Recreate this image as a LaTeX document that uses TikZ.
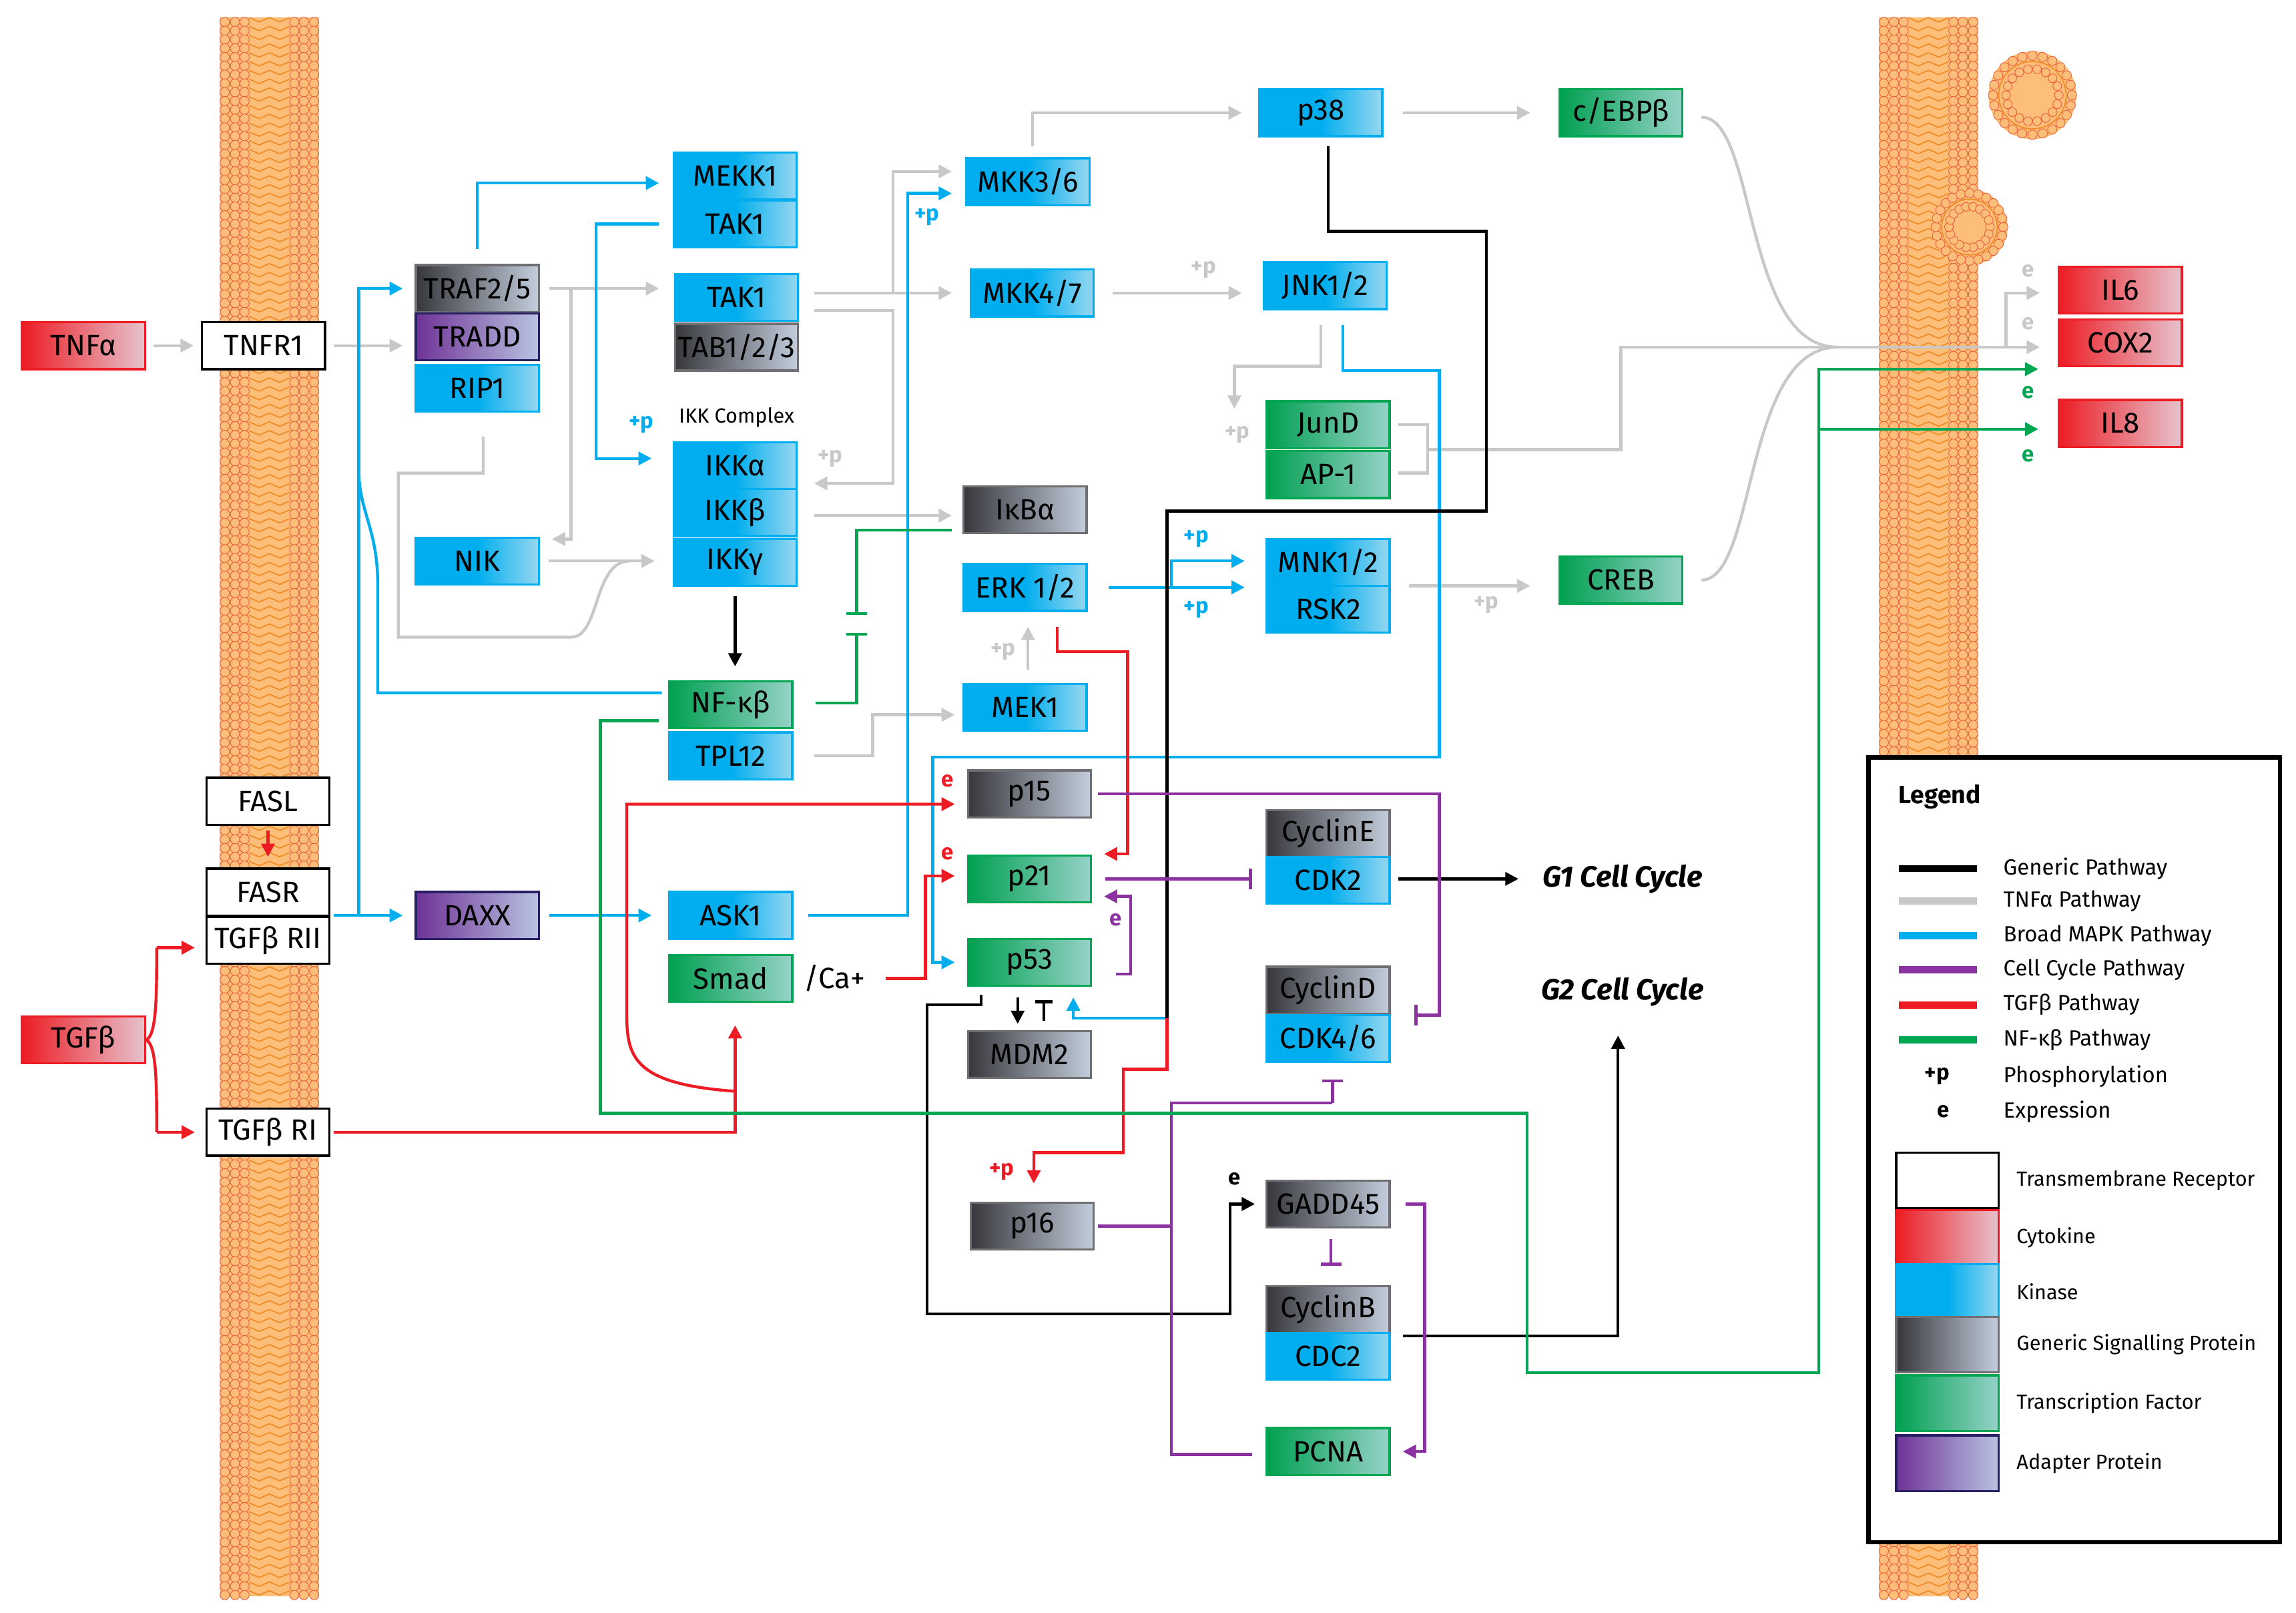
\documentclass[tikz,border=0pt]{standalone}
\usepackage{fontspec}
\setmainfont{Fira Sans}
\usetikzlibrary{arrows.meta}
\definecolor{cyB}{RGB}{0,174,239}\definecolor{cyR}{RGB}{150,215,240}
\definecolor{gyL}{RGB}{55,55,60}\definecolor{gyR}{RGB}{195,205,220}\definecolor{gyB}{RGB}{110,110,115}
\definecolor{gnL}{RGB}{0,160,80}\definecolor{gnR}{RGB}{150,210,200}\definecolor{gnB}{RGB}{0,166,81}
\definecolor{puL}{RGB}{110,50,150}\definecolor{puR}{RGB}{185,195,225}\definecolor{puB}{RGB}{40,30,100}
\definecolor{rdL}{RGB}{237,28,36}\definecolor{rdR}{RGB}{230,195,205}
\definecolor{lg}{RGB}{200,200,200}\definecolor{pu}{RGB}{140,50,160}\definecolor{rd}{RGB}{237,28,36}
\definecolor{gn}{RGB}{0,166,81}\definecolor{cy}{RGB}{0,174,239}
\definecolor{mem}{RGB}{240,140,40}\definecolor{memc}{RGB}{252,190,120}\definecolor{memo}{RGB}{235,90,60}
\tikzset{
 box/.style={draw,line width=1.5pt,minimum width=84pt,minimum height=32pt,inner sep=0pt,font=\fontsize{20}{22}\selectfont},
 kin/.style={box,draw=cyB,left color=cyB,right color=cyR,middle color=cyB},
 gen/.style={box,draw=gyB,left color=gyL,right color=gyR},
 tf/.style={box,draw=gnB,left color=gnL,right color=gnR},
 ad/.style={box,draw=puB,left color=puL,right color=puR},
 cyt/.style={box,draw=rdL,left color=rdL,right color=rdR},
 rec/.style={box,draw=black,fill=white},
 ln/.style={line width=2pt,rounded corners=0pt},
 ar/.style={ln,-{Triangle[length=9pt,width=9pt]}},
 inh/.style={ln,-{Bar[width=14pt,line width=2pt]}},
 lbl/.style={font=\fontsize{15}{16}\selectfont\bfseries,inner sep=1pt},
 lgt/.style={font=\fontsize{15}{17}\selectfont,anchor=west,inner sep=0pt},
}
\begin{document}
\begin{tikzpicture}[x=1pt,y=-1pt]
\useasboundingbox (0,0) rectangle (1568,1101);
% membranes
\foreach \mx in {150,1283}{
 \fill[memc] (\mx,12) rectangle (\mx+68,1090);
 \foreach \yy in {0,6,...,1074}{
  \draw[mem,line width=0.8pt] (\mx+20,12+\yy) -- (\mx+27,15+\yy) -- (\mx+34,12+\yy) -- (\mx+41,15+\yy) -- (\mx+48,12+\yy);
  \foreach \cx in {3.5,10.5,17,51,57.5,64.5}{
   \filldraw[fill=memc,draw=memo,line width=0.4pt] (\mx+\cx,15+\yy) circle (3.2);}}
}
\foreach \vx/\vy/\vr in {1388/65/30,1345/155/26}{
 \fill[memc] (\vx,\vy) circle (\vr);
 \foreach \a in {0,15,...,345}{\filldraw[fill=memc,draw=memo,line width=0.4pt] (\vx,\vy)++(\a:\vr-3) circle (3.2);}
 \foreach \a in {0,20,...,340}{\filldraw[fill=memc,draw=memo,line width=0.4pt] (\vx,\vy)++(\a:\vr-12) circle (3);}
 \draw[mem,line width=0.8pt] (\vx,\vy) circle (\vr-7);
}
% nodes
\node[cyt] (tnfa) at (57,236) {TNFα};
\node[rec] (tnfr) at (180,236) {TNFR1};
\node[gen] (traf) at (326,197) {TRAF2/5};
\node[ad] (tradd) at (326,230) {TRADD};
\node[kin] (rip) at (326,265) {RIP1};
\node[kin] (mekk) at (502,120) {MEKK1};
\node[kin] (tak1a) at (502,153) {TAK1};
\node[kin] (tak1b) at (503,203) {TAK1};
\node[gen] (tab) at (503,237) {TAB1/2/3};
\node[font=\fontsize{14}{16}\selectfont] (ikkc) at (503,285) {IKK Complex};
\node[kin] (ikka) at (502,318) {IKKα};
\node[kin] (ikkb) at (502,350) {IKKβ};
\node[kin] (ikkg) at (502,384) {IKKγ};
\node[kin] (nik) at (326,383) {NIK};
\node[tf] (nfkb) at (499,481) {NF-κβ};
\node[kin] (tpl) at (499,516) {TPL12};
\node[kin] (mkk36) at (702,124) {MKK3/6};
\node[kin] (mkk47) at (705,200) {MKK4/7};
\node[kin] (p38) at (902,77) {p38};
\node[kin] (jnk) at (905,195) {JNK1/2};
\node[gen] (ikba) at (700,348) {IκBα};
\node[kin] (erk) at (700,401) {ERK 1/2};
\node[kin] (mek) at (700,483) {MEK1};
\node[tf] (jund) at (907,290) {JunD};
\node[tf] (ap1) at (907,324) {AP-1};
\node[kin] (mnk) at (907,384) {MNK1/2};
\node[kin] (rsk) at (907,416) {RSK2};
\node[tf] (cebp) at (1107,77) {c/EBPβ};
\node[tf] (creb) at (1107,396) {CREB};
\node[cyt] (il6) at (1448,198) {IL6};
\node[cyt] (cox2) at (1448,234) {COX2};
\node[cyt] (il8) at (1448,289) {IL8};
\node[rec] (fasl) at (183,547) {FASL};
\node[rec] (fasr) at (183,609) {FASR};
\node[rec] (tgfr2) at (183,642) {TGFβ RII};
\node[cyt] (tgfb) at (57,710) {TGFβ};
\node[rec] (tgfr1) at (183,773) {TGFβ RI};
\node[ad] (daxx) at (326,625) {DAXX};
\node[kin] (ask) at (499,625) {ASK1};
\node[tf] (smad) at (499,668) {Smad};
\node[font=\fontsize{20}{22}\selectfont] (ca) at (570,668) {/Ca+};
\node[gen] (p15) at (703,542) {p15};
\node[tf] (p21) at (703,600) {p21};
\node[tf] (p53) at (703,657) {p53};
\node[gen] (mdm2) at (703,720) {MDM2};
\node[gen] (cyce) at (907,569) {CyclinE};
\node[kin] (cdk2) at (907,601) {CDK2};
\node[gen] (cycd) at (907,676) {CyclinD};
\node[kin] (cdk46) at (907,709) {CDK4/6};
\node[gen] (gadd) at (907,822) {GADD45};
\node[gen] (cycb) at (907,894) {CyclinB};
\node[kin] (cdc2) at (907,926) {CDC2};
\node[tf] (pcna) at (907,991) {PCNA};
\node[gen] (p16) at (705,837) {p16};
\node[font=\fontsize{20}{22}\selectfont\bfseries\itshape] (g1) at (1108,600) {G1 Cell Cycle};
\node[font=\fontsize{20}{22}\selectfont\bfseries\itshape] (g2) at (1108,677) {G2 Cell Cycle};
% gray
\begin{scope}[lg]
\draw[ar] ([xshift=5pt]tnfa.east) -- ([xshift=-5pt]tnfr.west);
\draw[ar] ([xshift=5pt]tnfr.east) -- (275,236);
\draw[ar] (375,197) -- (450,197);
\draw[ar] (390,197) -- (390,368) -- (377,368);
\draw[ln] (330,298) -- (330,323) -- (272,323) -- (272,435) -- (390,435) .. controls (410,435) and (405,383) .. (430,383);
\draw[ar] ([xshift=6pt]nik.east) -- (447,383);
\draw[ar] (556,200) -- (650,200);
\draw[ar] (610,200) -- (610,117) -- (650,117);
\draw[ar] (556,212) -- (610,212) -- (610,330) -- (556,330);
\draw[ar] (556,352) -- (650,352);
\draw[ar] (760,200) -- (848,200);
\draw[ar] (705,100) -- (705,77) -- (848,77);
\draw[ar] (958,77) -- (1045,77);
\draw[ar] (902,222) -- (902,250) -- (843,250) -- (843,279);
\draw[ar] (556,516) -- (596,516) -- (596,488) -- (652,488);
\draw[ar] (702,457) -- (702,428);
\draw[ar] (962,400) -- (1045,400);
\draw[ln] (955,290) -- (975,290) -- (975,323) -- (955,323);
\draw[ln] (975,307) -- (1107,307) -- (1107,237) -- (1255,237);
\draw[ln] (1162,80) .. controls (1200,80) and (1190,237) .. (1255,237);
\draw[ln] (1162,396) .. controls (1200,396) and (1190,237) .. (1255,237);
\draw[ar] (1255,237) -- (1393,237);
\draw[ar] (1370,237) -- (1370,200) -- (1393,200);
\node[lbl,lg] at (567,313) {+p};
\node[lbl,lg] at (822,184) {+p};
\node[lbl,lg] at (845,297) {+p};
\node[lbl,lg] at (685,445) {+p};
\node[lbl,lg] at (1015,413) {+p};
\node[lbl,lg] at (1385,185) {e};
\node[lbl,lg] at (1385,221) {e};
\end{scope}
% cyan
\begin{scope}[cy]
\draw[ar] (326,170) -- (326,125) -- (450,125);
\draw[ar] (450,153) -- (407,153) -- (407,313) -- (445,313);
\draw[ar] (228,625) -- (275,625);
\draw[ar] (245,625) -- (245,197) -- (275,197);
\draw[ln] (452,473) -- (258,473) -- (258,400) .. controls (258,360) and (245,350) .. (245,320);
\draw[ar] (375,625) -- (445,625);
\draw[ar] (552,625) -- (620,625) -- (620,132) -- (650,132);
\draw[ar] (757,401) -- (850,401);
\draw[ar] (800,401) -- (800,383) -- (850,383);
\draw[ar] (917,222) -- (917,253) -- (983,253) -- (983,517) -- (637,517) -- (637,657) -- (652,657);
\draw[ar] (797,695) -- (733,695) -- (733,681);
\node[lbl] at (438,290) {+p};
\node[lbl] at (633,148) {+p};
\node[lbl] at (817,368) {+p};
\node[lbl] at (817,416) {+p};
\end{scope}
% black
\draw[ar] (502,407) -- (502,455);
\draw[ln] (907,100) -- (907,158) -- (1015,158) -- (1015,349) -- (797,349) -- (797,695);
\draw[ar] (695,681) -- (695,699);
\draw[ln,{Bar[width=12pt,line width=2pt]}-] (713,683) -- (713,697);
\draw[ar] (670,679) -- (670,686) -- (633,686) -- (633,897) -- (840,897) -- (840,822) -- (857,822);
\node[lbl] at (843,805) {e};
\draw[ar] (955,600) -- (1037,600);
\draw[ar] (958,912) -- (1105,912) -- (1105,707);
% red
\begin{scope}[rd]
\draw[ar] (183,567) -- (183,585);
\draw[ln] (107,647) .. controls (107,680) and (107,706) .. (100,710) .. controls (107,714) and (107,740) .. (107,773);
\draw[ar] (107,647) -- (133,647);
\draw[ar] (107,773) -- (133,773);
\draw[ar] (228,773) -- (502,773) -- (502,700);
\draw[ar] (502,745) .. controls (430,740) and (428,720) .. (428,690) -- (428,549) -- (652,549);
\draw[ar] (605,668) -- (632,668) -- (632,598) -- (652,598);
\draw[ar] (722,428) -- (722,445) -- (770,445) -- (770,583) -- (754,583);
\draw[ar] (797,695) -- (797,730) -- (767,730) -- (767,787) -- (706,787) -- (706,808);
\node[lbl] at (647,533) {e};
\node[lbl] at (647,583) {e};
\node[lbl] at (684,800) {+p};
\end{scope}
% purple
\begin{scope}[pu]
\draw[inh] (750,542) -- (983,542) -- (983,693) -- (966,693);
\draw[inh] (755,600) -- (855,600);
\draw[ar] (762,665) -- (772,665) -- (772,612) -- (754,612);
\node[lbl] at (762,628) {e};
\draw[ln] (750,837) -- (800,837);
\draw[ln] (855,993) -- (800,993) -- (800,753) -- (910,753);
\draw[inh] (910,753) -- (910,737);
\draw[ar] (960,822) -- (973,822) -- (973,991) -- (958,991);
\draw[inh] (909,846) -- (909,864);
\end{scope}
% green
\begin{scope}[gn]
\draw[inh] (557,480) -- (585,480) -- (585,432);
\draw[inh] (650,362) -- (585,362) -- (585,420);
\draw[ar] (450,492) -- (410,492) -- (410,760) -- (1043,760) -- (1043,937) -- (1242,937) -- (1242,252) -- (1392,252);
\draw[ar] (1242,293) -- (1392,293);
\node[lbl] at (1385,268) {e};
\node[lbl] at (1385,311) {e};
\end{scope}
% legend
\draw[line width=3pt,fill=white] (1276,517) rectangle (1557,1053);
\node[font=\fontsize{17}{20}\selectfont\bfseries,anchor=west] at (1293,544) {Legend};
\foreach \c/\y/\t in {black/593/Generic Pathway,lg/615/TNFα Pathway,cy/639/Broad MAPK Pathway,pu/662/Cell Cycle Pathway,rd/686/TGFβ Pathway,gn/710/NF-κβ Pathway}{
 \draw[\c,line width=5pt] (1297,\y) -- (1350,\y);
 \node[lgt] at (1368,\y) {\t};}
\node[lbl] at (1323,735) {+p}; \node[lgt] at (1368,735) {Phosphorylation};
\node[lbl] at (1327,759) {e}; \node[lgt] at (1368,759) {Expression};
\foreach \s/\y/\t in {rec/806/Transmembrane Receptor,cyt/845/Cytokine,kin/882/Kinase,gen/918/Generic Signalling Protein,tf/958/Transcription Factor,ad/999/Adapter Protein}{
 \node[\s,minimum width=70pt,minimum height=38pt] at (1330,\y) {};
 \node[lgt,font=\fontsize{14}{16}\selectfont] at (1377,\y) {\t};}
\end{tikzpicture}
\end{document}
